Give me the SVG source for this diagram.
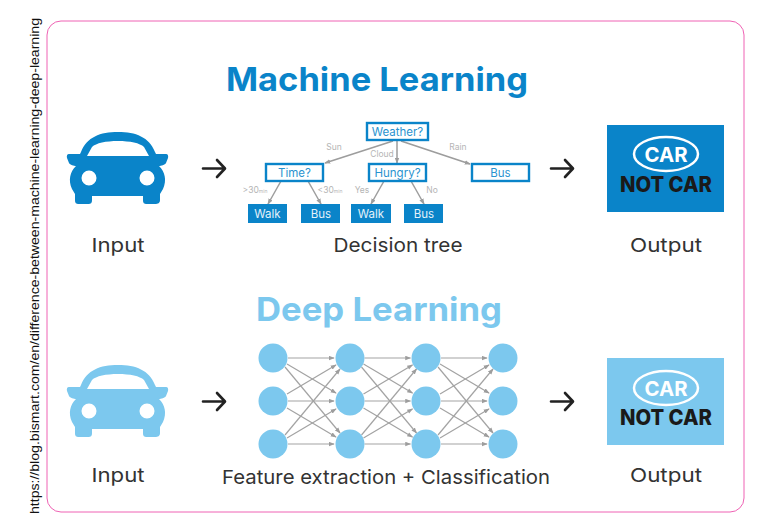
<svg xmlns="http://www.w3.org/2000/svg" xmlns:xlink="http://www.w3.org/1999/xlink" width="768" height="532" viewBox="0 0 768 532">
<style>
text{font-family:"Inter","Noto Sans","Liberation Sans",sans-serif;text-anchor:middle}
.title{font-size:33px;font-weight:700}
.cap{font-size:19px;fill:#333}
.nc{font-size:21px;font-weight:800;fill:#1a1a1a}
.car{font-size:20px;font-weight:700;fill:#fff}
.q{fill:#fff;stroke:#0a84c9;stroke-width:2.4}
.qt{font-size:11.5px;fill:#2a93cf}
.a{fill:#0a84c9}
.at{font-size:11.5px;fill:#e4f2fa}
.lab{font-size:8.5px;fill:#b5b5b5}
.edge{stroke:#9d9d9d;stroke-width:1.5;fill:none;marker-end:url(#g)}
.nnp{stroke:#a3a3a3;stroke-width:1.2;fill:none;marker-end:url(#g)}
.arr{stroke:#222;stroke-width:2.6;fill:none;stroke-linecap:round;stroke-linejoin:round}
.node{fill:#7cc8ee}
</style>
<defs>
<marker id="g" viewBox="0 0 8 6" refX="7" refY="3" markerWidth="6" markerHeight="5" markerUnits="userSpaceOnUse" orient="auto"><path d="M0 0L8 3L0 6z" fill="#9d9d9d"/></marker>
<path id="carshape" fill-rule="evenodd" d="M81 152C87 137 100 132 118 132C136 132 149 137 155 152L156 154L166 154C168 154 168.500 156 168 158L166 163C165 165 161 166 159 166C165 172 167 180 163 189L160 194L160 200C160 203 158 204 155 204L147 204C144 204 143 203 143 200L143 196L92 196L92 200C92 203 91 204 88 204L79 204C76 204 75 203 75 200L75 194L72 189C68 180 70 172 76 166C74 166 70 165 69 163L67 158C66.500 156 67 154 69 154L80 154ZM87 156L149 156L144 147C140 143 130 141 118 141C106 141 96 143 92 147ZM89 170.500A7.500 7.500 0 1 0 89 185.500A7.500 7.500 0 1 0 89 170.500ZM147 170.500A7.500 7.500 0 1 0 147 185.500A7.500 7.500 0 1 0 147 170.500Z"/>
<path id="arrow" d="M203 168.500L224 168.500M217 160L225 168.500L217 177"/>
<circle id="n" r="14.500"/>
</defs>
<rect width="768" height="532" fill="#fff"/>
<rect x="47" y="21" width="697" height="491" rx="14" fill="#fff" stroke="#ef62b4" stroke-width="1"/>
<text transform="translate(38.500 266) rotate(-90)" style="font-family:'Liberation Sans',Arial,sans-serif;font-size:12.500px;fill:#111" textLength="496" lengthAdjust="spacingAndGlyphs">https://blog.bismart.com/en/difference-between-machine-learning-deep-learning</text>

<g id="connectors">
<use xlink:href="#arrow" class="arr"/>
<use xlink:href="#arrow" class="arr" x="348"/>
<use xlink:href="#arrow" class="arr" y="233"/>
<use xlink:href="#arrow" class="arr" x="348" y="233"/>
<path class="edge" d="M393 141L325 163"/>
<path class="edge" d="M397 141L397 163"/>
<path class="edge" d="M401 141L470 164"/>
<path class="edge" d="M281 181L268 204"/>
<path class="edge" d="M308 181L321 204"/>
<path class="edge" d="M384 181L371 204"/>
<path class="edge" d="M411 181L424 204"/>
<g id="nn-edges-1">
<path class="nnp" d="M288 358L334 358"/><path class="nnp" d="M288 401L334 401"/><path class="nnp" d="M288 444L334 444"/>
<path class="nnp" d="M287 364L336 393"/><path class="nnp" d="M285 367L340 433"/>
<path class="nnp" d="M287 394L336 365"/><path class="nnp" d="M287 408L336 437"/>
<path class="nnp" d="M285 435L340 369"/><path class="nnp" d="M287 438L336 409"/>
</g>
<use xlink:href="#nn-edges-1" x="76.500"/>
<use xlink:href="#nn-edges-1" x="153"/>
</g>

<g id="title-ml"><text class="title" x="377" y="91" fill="#0a84c9" textLength="302" lengthAdjust="spacingAndGlyphs">Machine Learning</text></g>
<g id="input-ml"><use xlink:href="#carshape" fill="#0a84c9"/><text class="cap" x="118" y="252" textLength="53" lengthAdjust="spacingAndGlyphs">Input</text></g>

<g id="weather"><rect class="q" x="367" y="123" width="61" height="17"/><text class="qt" x="397.500" y="136">Weather?</text></g>
<g id="time"><rect class="q" x="266" y="164" width="57" height="17"/><text class="qt" x="294.500" y="177">Time?</text></g>
<g id="hungry"><rect class="q" x="369" y="164" width="57" height="17"/><text class="qt" x="397.500" y="177">Hungry?</text></g>
<g id="bus-rain"><rect class="q" x="472" y="164" width="57" height="17"/><text class="qt" x="500.500" y="177">Bus</text></g>
<g id="walk1"><rect class="a" x="248" y="204" width="39" height="19"/><text class="at" x="267.500" y="218">Walk</text></g>
<g id="bus1"><rect class="a" x="301" y="204" width="39" height="19"/><text class="at" x="321" y="218">Bus</text></g>
<g id="walk2"><rect class="a" x="351" y="204" width="40" height="19"/><text class="at" x="371" y="218">Walk</text></g>
<g id="bus2"><rect class="a" x="404" y="204" width="39" height="19"/><text class="at" x="424" y="218">Bus</text></g>
<g id="tree-labels">
<text class="lab" x="334" y="150">Sun</text>
<text class="lab" x="382" y="157">Cloud</text>
<text class="lab" x="458" y="150">Rain</text>
<text class="lab" x="255" y="193">&gt;30<tspan font-size="5">min</tspan></text>
<text class="lab" x="330" y="193">&lt;30<tspan font-size="5">min</tspan></text>
<text class="lab" x="362" y="193">Yes</text>
<text class="lab" x="432" y="193">No</text>
</g>
<g id="cap-tree"><text class="cap" x="398" y="252" textLength="129" lengthAdjust="spacingAndGlyphs">Decision tree</text></g>

<g id="output-ml"><rect x="607" y="125" width="117" height="87" fill="#0a84c9"/><ellipse cx="666" cy="154" rx="32" ry="17" fill="none" stroke="#fff" stroke-width="2.500"/><text class="car" x="666" y="162" textLength="43" lengthAdjust="spacingAndGlyphs">CAR</text><text class="nc" x="666" y="192" textLength="92" lengthAdjust="spacingAndGlyphs">NOT CAR</text><text class="cap" x="666" y="252" textLength="72" lengthAdjust="spacingAndGlyphs">Output</text></g>

<g id="title-dl"><text class="title" x="379" y="321" fill="#7cc8ee" textLength="246" lengthAdjust="spacingAndGlyphs">Deep Learning</text></g>
<g id="input-dl"><use xlink:href="#carshape" y="233" fill="#7cc8ee"/><text class="cap" x="118" y="482" textLength="53" lengthAdjust="spacingAndGlyphs">Input</text></g>

<g id="nn-col1"><use xlink:href="#n" class="node" x="273" y="358"/><use xlink:href="#n" class="node" x="273" y="401"/><use xlink:href="#n" class="node" x="273" y="444"/></g>
<g id="nn-col2"><use xlink:href="#n" class="node" x="350" y="358"/><use xlink:href="#n" class="node" x="350" y="401"/><use xlink:href="#n" class="node" x="350" y="444"/></g>
<g id="nn-col3"><use xlink:href="#n" class="node" x="426" y="358"/><use xlink:href="#n" class="node" x="426" y="401"/><use xlink:href="#n" class="node" x="426" y="444"/></g>
<g id="nn-col4"><use xlink:href="#n" class="node" x="503" y="358"/><use xlink:href="#n" class="node" x="503" y="401"/><use xlink:href="#n" class="node" x="503" y="444"/></g>
<g id="cap-nn"><text class="cap" x="386" y="484" textLength="328" lengthAdjust="spacingAndGlyphs">Feature extraction + Classification</text></g>

<g id="output-dl"><rect x="607" y="358" width="117" height="87" fill="#7cc8ee"/><ellipse cx="666" cy="388" rx="32" ry="17" fill="none" stroke="#fff" stroke-width="2.500"/><text class="car" x="666" y="396" textLength="43" lengthAdjust="spacingAndGlyphs">CAR</text><text class="nc" x="666" y="425" textLength="92" lengthAdjust="spacingAndGlyphs">NOT CAR</text><text class="cap" x="666" y="482" textLength="72" lengthAdjust="spacingAndGlyphs">Output</text></g>
</svg>
